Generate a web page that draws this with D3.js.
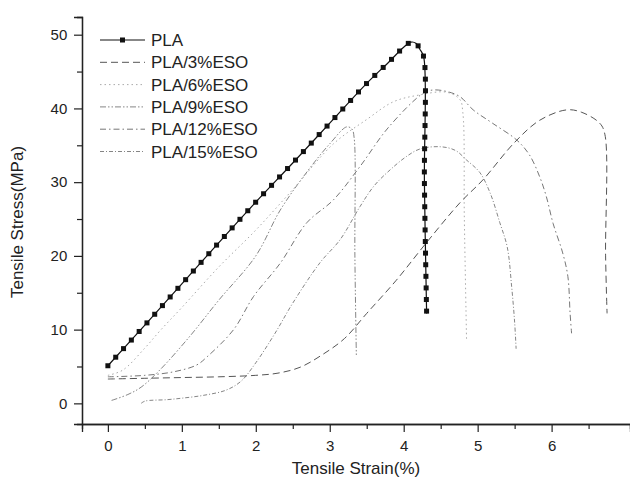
<!DOCTYPE html>
<html>
<head>
<meta charset="utf-8">
<script src="https://d3js.org/d3.v7.min.js"></script>
<style>
  body { margin: 0; background: #fff; }
  text { font-family: "Liberation Sans", Arial, sans-serif; fill: #222; }
</style>
</head>
<body>
<script>
// values (strain %, stress MPa)
const plaStrain = [0, 0.5, 1, 1.5, 2, 2.5, 3, 3.5, 3.8, 4.0, 4.1, 4.17, 4.22, 4.27, 4.28, 4.31];
const plaStress = [5.1, 10.6, 16.2, 21.8, 27.3, 32.6, 38.0, 43.4, 46.3, 48.3, 49.0, 48.8, 48.0, 47.0, 30, 12.2];

const eso3Strain = [0, 0.5, 1, 1.5, 2, 2.3, 2.6, 2.9, 3.2, 3.5, 3.9, 4.3, 4.76, 5.07, 5.5, 5.84, 6.2, 6.4, 6.65, 6.72, 6.73, 6.75];
const eso3Stress = [3.3, 3.4, 3.5, 3.6, 3.8, 4.1, 4.9, 6.6, 8.8, 12.2, 16.7, 21.7, 27.2, 30.3, 35.4, 38.4, 39.8, 39.5, 38.0, 36.5, 20, 12.2];

const eso6Strain = [0, 0.2, 0.5, 0.71, 1.0, 1.5, 2.0, 2.5, 3.05, 3.5, 3.86, 4.2, 4.58, 4.76, 4.8, 4.82, 4.85];
const eso6Stress = [3.8, 4.5, 7.5, 9.9, 13.0, 18.5, 23.5, 29.0, 35.2, 38.5, 40.9, 41.8, 42.2, 41.2, 39.4, 25, 8.6];

const eso9Strain = [0.05, 0.27, 0.45, 0.7, 1.1, 1.5, 2.0, 2.33, 2.7, 3.0, 3.23, 3.3, 3.33, 3.34, 3.36];
const eso9Stress = [0.4, 1.2, 2.2, 4.5, 9.0, 14.0, 20.0, 26.2, 31.5, 35.2, 37.5, 37.2, 36.0, 20, 6.3];

const eso12Strain = [0, 0.5, 0.9, 1.2, 1.34, 1.7, 1.97, 2.33, 2.69, 3.05, 3.4, 3.8, 4.27, 4.4, 4.58, 4.76, 4.94, 5.2, 5.53, 5.7, 5.84, 5.93, 6.02, 6.15, 6.22, 6.25, 6.27];
const eso12Stress = [3.6, 3.8, 4.3, 5.2, 6.3, 10.0, 14.5, 19.0, 24.5, 27.6, 32.0, 37.5, 42.1, 42.5, 42.3, 41.6, 39.8, 38.0, 35.7, 33.7, 30.7, 28.0, 24.4, 20.4, 17.2, 12.2, 9.5];

const eso15Strain = [0.45, 0.5, 0.8, 1.0, 1.3, 1.6, 1.8, 2.0, 2.26, 2.5, 2.87, 3.14, 3.41, 3.6, 3.82, 4.04, 4.22, 4.5, 4.7, 4.85, 5.03, 5.17, 5.3, 5.4, 5.46, 5.5, 5.52];
const eso15Stress = [0, 0.3, 0.5, 0.7, 1.1, 1.8, 3.0, 5.5, 9.5, 13.6, 19.1, 22.2, 26.7, 29.5, 31.7, 33.5, 34.5, 34.8, 34.3, 33.0, 31.3, 28.5, 24.5, 21.2, 15.8, 11.0, 7.4];

const seriesNames = ["PLA", "PLA/3%ESO", "PLA/6%ESO", "PLA/9%ESO", "PLA/12%ESO", "PLA/15%ESO"];
const xTicks = [0, 1, 2, 3, 4, 5, 6];
const yTicks = [0, 10, 20, 30, 40, 50];

const series = [
  { name: seriesNames[0], xs: plaStrain, ys: plaStress, color: "#111", width: 1.2, dash: null, marker: true },
  { name: seriesNames[1], xs: eso3Strain, ys: eso3Stress, color: "#555", width: 1, dash: "7,4" },
  { name: seriesNames[2], xs: eso6Strain, ys: eso6Stress, color: "#aaa", width: 1, dash: "1.5,3" },
  { name: seriesNames[3], xs: eso9Strain, ys: eso9Stress, color: "#777", width: 0.9, dash: "6,2,1.5,2,1.5,2" },
  { name: seriesNames[4], xs: eso12Strain, ys: eso12Stress, color: "#666", width: 0.9, dash: "6,3,1.5,3" },
  { name: seriesNames[5], xs: eso15Strain, ys: eso15Stress, color: "#777", width: 0.9, dash: "4,2,1,2" }
];

const W = 630, H = 485;
const svg = d3.select("body").append("svg").attr("width", W).attr("height", H);

const x = d3.scaleLinear().domain([-0.35, 7.06]).range([82, 630]);
const y = d3.scaleLinear().domain([-2.8, 52.4]).range([424, 17]);

// axes
const xAxis = d3.axisBottom(x).tickValues(xTicks).tickSize(8).tickFormat(d3.format("d"));
const xMinor = d3.axisBottom(x).tickValues(d3.range(0.5, 7.01, 1)).tickSize(5).tickFormat("");
const yAxis = d3.axisLeft(y).tickValues(yTicks).tickSize(8).tickFormat(d3.format("d"));
const yMinor = d3.axisLeft(y).tickValues([5, 15, 25, 35, 45]).tickSize(5).tickFormat("");

const gx = svg.append("g").attr("transform", "translate(0,424)").call(xAxis);
svg.append("g").attr("transform", "translate(0,424)").call(xMinor);
const gy = svg.append("g").attr("transform", "translate(82,0)").call(yAxis);
svg.append("g").attr("transform", "translate(82,0)").call(yMinor);

svg.selectAll(".domain").attr("stroke", "#222").attr("stroke-width", 1.3);
svg.selectAll(".tick line").attr("stroke", "#222").attr("stroke-width", 1.2);
gx.selectAll("text").attr("font-size", 15).attr("dy", "1.05em").attr("fill", "#333");
gy.selectAll("text").attr("font-size", 15).attr("dx", "-0.25em").attr("fill", "#333");

svg.append("text").attr("x", 356).attr("y", 474).attr("text-anchor", "middle")
  .attr("font-size", 17).text("Tensile Strain(%)");
svg.append("text").attr("transform", "translate(23,222) rotate(-90)").attr("text-anchor", "middle")
  .attr("font-size", 17).text("Tensile Stress(MPa)");

// curves
const line = d3.line().x(d => x(d[0])).y(d => y(d[1])).curve(d3.curveCatmullRom.alpha(0.5));

series.slice().reverse().forEach(s => {
  const pts = d3.zip(s.xs, s.ys);
  const p = svg.append("path").datum(pts)
    .attr("d", line).attr("fill", "none")
    .attr("stroke", s.color).attr("stroke-width", s.width)
    .attr("stroke-dasharray", s.dash);
  if (s.marker) {
    const node = p.node();
    const len = node.getTotalLength();
    const step = 11.6;
    const marks = d3.range(0, len, step).map(l => node.getPointAtLength(l));
    svg.append("g").selectAll("rect").data(marks).join("rect")
      .attr("x", d => d.x - 2.5).attr("y", d => d.y - 2.5)
      .attr("width", 5).attr("height", 5).attr("fill", "#111");
  }
});

// legend
const leg = svg.append("g");
series.forEach((s, i) => {
  const ly = 40 + i * 22.3;
  leg.append("line").attr("x1", 100).attr("x2", 145).attr("y1", ly).attr("y2", ly)
    .attr("stroke", s.color).attr("stroke-width", s.width)
    .attr("stroke-dasharray", s.dash);
  if (s.marker) {
    leg.append("rect").attr("x", 120).attr("y", ly - 2.5).attr("width", 5).attr("height", 5).attr("fill", "#111");
  }
  leg.append("text").attr("x", 151).attr("y", ly + 6).attr("font-size", 17).text(s.name);
});
</script>
</body>
</html>
